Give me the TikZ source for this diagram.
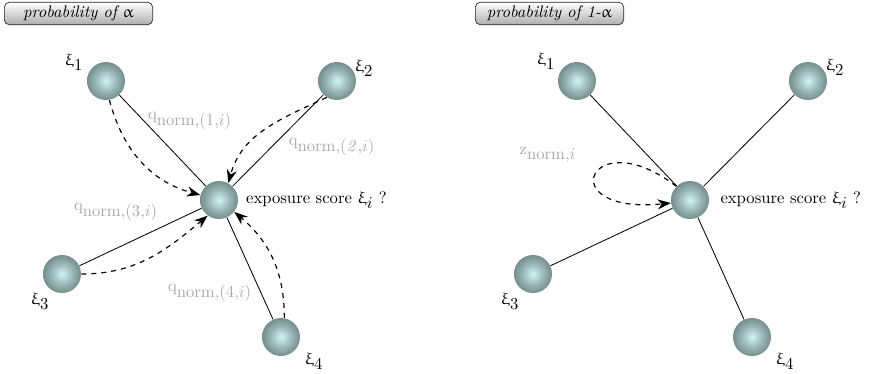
\documentclass[tikz,border=0pt]{standalone}
\usepackage{upgreek}
\usetikzlibrary{arrows.meta}
\definecolor{ballin}{RGB}{210,244,244}
\definecolor{ballmid}{RGB}{150,178,178}
\definecolor{ballout}{RGB}{104,128,128}
\definecolor{lblgray}{RGB}{168,168,168}
\pgfdeclareradialshading{ballshade}{\pgfpoint{0bp}{0bp}}{color(0bp)=(ballin); color(15bp)=(ballmid); color(29bp)=(ballout); color(72bp)=(ballout)}
\tikzset{
  sphere/.style={circle, minimum size=22.8pt, inner sep=0pt, shade, shading=ballshade},
  lbl/.style={text=lblgray, inner sep=0pt},
  tbox/.style={draw=black!85, rounded corners=3pt, top color=white, bottom color=black!32, minimum width=89pt, minimum height=13.5pt, inner sep=0pt, font=\itshape},
  link/.style={line width=0.5pt},
  flow/.style={dashed, line width=0.7pt, -{Stealth[length=8pt,width=6pt,inset=2.5pt]}},
  xlbl/.style={inner sep=0pt},
}
\begin{document}
\begin{tikzpicture}[x=0.6pt,y=-0.6pt]
\useasboundingbox (0,0) rectangle (874,373);
% ---------- left panel ----------
\node[tbox] (t1) at (78.5,13.5) {probability\ of\ $\upalpha$};
\node[sphere] (a1) at (106,81) {};
\node[sphere] (a2) at (337,81) {};
\node[sphere] (ac) at (219,200) {};
\node[sphere] (a3) at (62,274) {};
\node[sphere] (a4) at (281,337) {};
\node[xlbl] (la1) at (74,62) {$\upxi_{\textstyle 1}$};
\node[xlbl] (la2) at (364,68) {$\upxi_{\textstyle 2}$};
\node[xlbl] (la3) at (40,301) {$\upxi_{\textstyle 3}$};
\node[xlbl] (la4) at (314,361) {$\upxi_{\textstyle 4}$};
\node[xlbl, anchor=west] (lac) at ([xshift=4.5pt]ac.east) {exposure score $\upxi_{\textstyle i}$ ?};
\node[lbl] (q1) at (190,121) {$\mathrm{q}_{\textstyle\mathrm{norm}{,}(1{,}i)}$};
\node[lbl] (q2) at (332,147) {$\mathrm{q}_{\textstyle\mathrm{norm}{,}(\mathit{2}{,}i)}$};
\node[lbl] (q3) at (116,212) {$\mathrm{q}_{\textstyle\mathrm{norm}{,}(3{,}i)}$};
\node[lbl] (q4) at (210,293) {$\mathrm{q}_{\textstyle\mathrm{norm}{,}(4{,}i)}$};
\draw[link] (ac) -- (a1);
\draw[link] (ac) -- (a2);
\draw[link] (ac) -- (a3);
\draw[link] (ac) -- (a4);
\draw[flow] (a1.-80) to[out=-75,in=165] (ac.165);
\draw[flow] (a2.238) to[out=205,in=75] (ac.61);
\draw[flow] (a3.east) to[out=0,in=220] (ac.234);
\draw[flow] (a4.80) to[out=90,in=-40] (ac.-38);
% ---------- right panel ----------
\node[tbox] (t2) at (549.5,13.5) {probability\ of\ 1-$\upalpha$};
\node[sphere] (b1) at (577,81) {};
\node[sphere] (b2) at (808,81) {};
\node[sphere] (bc) at (690,200) {};
\node[sphere] (b3) at (533,274) {};
\node[sphere] (b4) at (752,337) {};
\node[xlbl] (lb1) at (546,61) {$\upxi_{\textstyle 1}$};
\node[xlbl] (lb2) at (835,67) {$\upxi_{\textstyle 2}$};
\node[xlbl] (lb3) at (510,301) {$\upxi_{\textstyle 3}$};
\node[xlbl] (lb4) at (785,361) {$\upxi_{\textstyle 4}$};
\node[xlbl, anchor=west] (lbc) at ([xshift=6.5pt]bc.east) {exposure score $\upxi_{\textstyle i}$ ?};
\node[lbl] (z1) at (548,155) {$\mathrm{z}_{\textstyle\mathrm{norm}{,}i}$};
\draw[link] (bc) -- (b1);
\draw[link] (bc) -- (b2);
\draw[link] (bc) -- (b3);
\draw[link] (bc) -- (b4);
\draw[flow] (bc.135) .. controls (590,120) and (550,215) .. (bc.189);
\end{tikzpicture}
\end{document}
